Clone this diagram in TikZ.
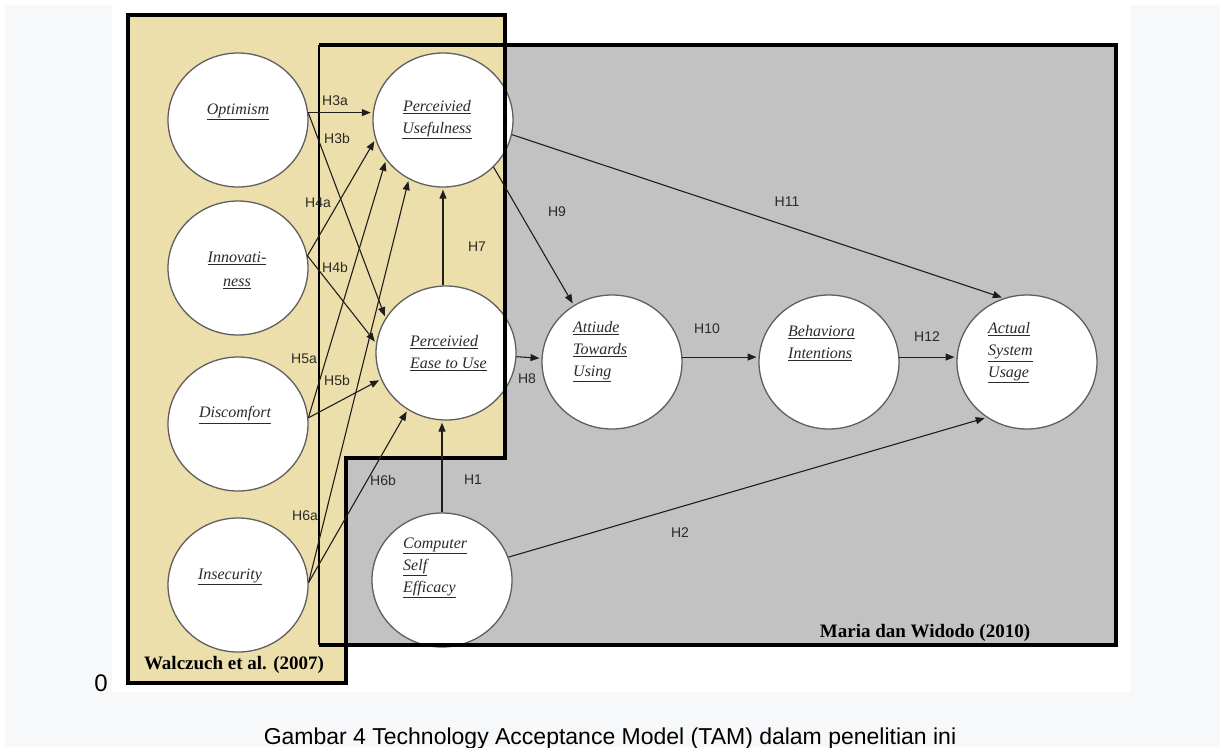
\documentclass[tikz,border=0pt]{standalone}
\usepackage{fontspec}
\setmainfont{Liberation Serif}
\setsansfont{Liberation Sans}
\usetikzlibrary{shapes.geometric,arrows.meta}
\definecolor{bgg}{HTML}{F7F8FA}
\definecolor{tanc}{HTML}{EDDFAB}
\definecolor{grayc}{HTML}{C2C2C2}
\definecolor{circl}{HTML}{5F5F5F}
\definecolor{arrc}{HTML}{1E1E1E}
\definecolor{labc}{HTML}{2A2A2A}
\newcommand{\myul}[1]{\underline{#1}}
\tikzset{
 cnode/.style={ellipse, draw=circl, fill=white, line width=1.3pt, minimum width=140pt, minimum height=134pt, inner sep=0pt},
 ctext/.style={font=\fontsize{16}{22}\selectfont\itshape, text=labc, inner sep=0pt},
 hlab/.style={font=\sffamily\fontsize{14}{14}\selectfont, text=labc, inner sep=0pt},
 arr/.style={-{Triangle[length=9pt,width=7pt]}, line width=1.1pt, draw=arrc, shorten >=2pt},
 heavy/.style={line width=4pt, line join=miter, draw=black},
 boxlab/.style={font=\bfseries\fontsize{19}{19}\selectfont, text=black, inner sep=0pt},
}
\begin{document}
\begin{tikzpicture}[x=1pt,y=-1pt]
\useasboundingbox (0,0) rectangle (1220,747);
% page background
\fill[white] (0,0) rectangle (1220,747);
\fill[bgg] (5,5) rectangle (1220,747);
\fill[white] (112,0) rectangle (1130,692);
% boxes fill
\fill[grayc] (319,45) rectangle (1116,645);
\fill[tanc] (128,15) -- (505,15) -- (505,458) -- (346,458) -- (346,683) -- (128,683) -- cycle;
% circles
\node[cnode] (opt) at (238,120) {};
\node[cnode] (inn) at (238,268) {};
\node[cnode] (dis) at (238,424) {};
\node[cnode] (ins) at (238,585) {};
\node[cnode] (pu)  at (443,120) {};
\node[cnode] (peu) at (446,353) {};
\node[cnode] (cse) at (442,580) {};
\node[cnode] (att) at (612,362) {};
\node[cnode] (bi)  at (829,362) {};
\node[cnode] (asu) at (1027,362) {};
% box borders
\draw[line width=1.2pt] (319,45) -- (319,645);
\draw[heavy] (128,15) -- (505,15) -- (505,458) -- (346,458) -- (346,683) -- (128,683) -- cycle;
\draw[heavy] (319,645) -- (1116,645) -- (1116,45) -- (319,45);
% circle texts
\node[ctext] (optT) at (238,112) {\myul{Optimism}};
\node[ctext, align=center] (innT) at (237,270) {\myul{Innovati-}\\[2pt]\myul{ness}};
\node[ctext] (disT) at (235,415) {\myul{Discomfort}};
\node[ctext] (insT) at (230,577) {\myul{Insecurity}};
\node[ctext, align=center] (puT) at (437,120) {\myul{Perceivied}\\\myul{Usefulness}};
\node[ctext, align=left, anchor=west] (peuT) at (410,353) {\myul{Perceivied}\\\myul{Ease to Use}};
\node[ctext, align=left, anchor=west] (cseT) at (403,568) {\myul{Computer}\\\myul{Self}\\\myul{Efficacy}};
\node[ctext, align=left, anchor=west] (attT) at (573,352) {\myul{Attiude}\\\myul{Towards}\\\myul{Using}};
\node[ctext, align=left, anchor=west] (biT) at (788,343) {\myul{Behaviora}\\\myul{Intentions}};
\node[ctext, align=left, anchor=west] (asuT) at (988,353) {\myul{Actual}\\\myul{System}\\\myul{Usage}};
% arrows
\draw[arr] (opt.6) -- (pu.174);
\draw[arr] (opt.6) -- (peu.150);
\draw[arr] (inn.10) -- (pu.196);
\draw[arr] (inn.10) -- (peu.172);
\draw[arr] (dis.5) -- (pu.215);
\draw[arr] (dis.5) -- (peu.202);
\draw[arr] (ins.2) -- (pu.240);
\draw[arr] (ins.2) -- (peu.236);
\draw[arr] (peu.north -| pu.south) -- (pu.south);
\draw[arr] (cse.north) -- (peu.south -| cse.north);
\draw[arr] (peu.-3) -- (att.177);
\draw[arr] (att.4) -- (bi.176);
\draw[arr] (bi.4) -- (asu.176);
\draw[arr] (pu.-43) -- (att.124);
\draw[arr] (pu.-12) -- (asu.110);
\draw[arr] (cse.19) -- (asu.234);
% hypothesis labels
\node[hlab] (h3a) at (335,101) {H3a};
\node[hlab] (h3b) at (337,138) {H3b};
\node[hlab] (h4a) at (318,203) {H4a};
\node[hlab] (h4b) at (335,267) {H4b};
\node[hlab] (h5a) at (304,359) {H5a};
\node[hlab] (h5b) at (337,380) {H5b};
\node[hlab] (h6a) at (305,516) {H6a};
\node[hlab] (h6b) at (383,480) {H6b};
\node[hlab] (h7)  at (477,247) {H7};
\node[hlab] (h1)  at (473,480) {H1};
\node[hlab] (h8)  at (527,379) {H8};
\node[hlab] (h9)  at (557,212) {H9};
\node[hlab] (h10) at (707,329) {H10};
\node[hlab] (h11) at (787,202) {H11};
\node[hlab] (h12) at (927,337) {H12};
\node[hlab] (h2)  at (680,533) {H2};
% box labels
\node[boxlab] (walc) at (234,665) {Walczuch et al. (2007)};
\node[boxlab] (maria) at (925,633) {Maria dan Widodo (2010)};
% outside texts
\node[font=\sffamily\fontsize{24}{24}\selectfont, inner sep=0pt] (zero) at (101,683) {0};
\node[font=\sffamily\fontsize{23}{23}\selectfont, inner sep=0pt, anchor=base] (cap) at (610,744) {Gambar 4 Technology Acceptance Model (TAM) dalam penelitian ini};
\end{tikzpicture}
\end{document}
